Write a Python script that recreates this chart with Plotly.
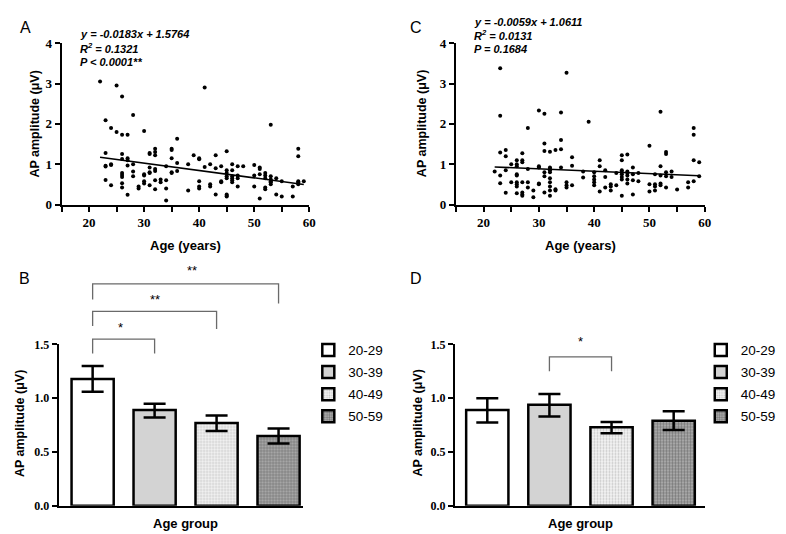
import plotly.graph_objects as go

# ---------------- data ----------------
# Panel A scatter (age, AP amplitude)
a_age = [22, 25, 26, 28, 23, 24, 25, 26, 27, 30, 36, 41, 53, 58, 58,
         23, 23, 23, 23, 24, 24, 24,
         26, 26, 26, 26, 26, 26, 26, 27, 27, 27, 27, 28, 28, 28, 29, 29,
         30, 30, 30, 30, 31, 31, 31, 31, 31, 31, 32, 32, 32, 32, 32, 32, 32,
         33, 33, 34, 34, 34, 34, 35, 35, 35, 35, 35, 36, 36, 38, 38, 39,
         40, 40, 40, 40, 40, 41, 42, 42, 42, 43, 43, 43, 44, 44, 44,
         45, 45, 45, 45, 45, 45, 45, 45, 46, 46, 46, 46, 46, 46,
         47, 47, 47, 47, 48, 50, 50, 50, 51, 51, 51, 51, 52, 52, 52, 52, 52,
         53, 53, 53, 53, 53, 54, 54, 55, 55, 57, 57, 58, 58, 58, 59]
a_amp = [3.05, 2.95, 2.68, 2.22, 2.09, 1.90, 1.80, 1.73, 1.73, 1.82, 1.63, 2.90, 1.98, 1.38, 1.20,
         1.28, 0.94, 0.96, 0.61, 1.00, 0.98, 0.48,
         1.25, 1.13, 0.78, 0.73, 0.68, 0.53, 0.42, 1.15, 1.10, 0.97, 0.24, 1.00, 0.82, 0.70, 0.45, 0.40,
         0.75, 0.72, 0.58, 0.52, 1.28, 1.25, 0.92, 0.80, 0.78, 0.48, 1.38, 1.30, 1.22, 0.88, 0.83, 0.60, 0.38,
         0.62, 0.55, 0.95, 0.60, 0.40, 0.10, 1.38, 1.35, 1.15, 0.78, 0.80, 1.03, 0.83, 1.00, 0.35, 1.22,
         1.15, 1.12, 0.58, 0.45, 0.40, 0.93, 1.00, 0.50, 0.45, 1.22, 0.90, 0.25, 0.95, 0.58, 0.55,
         1.32, 0.85, 0.78, 0.70, 0.65, 0.25, 0.22, 0.20, 1.00, 0.85, 0.70, 0.65, 0.60, 0.55,
         0.95, 0.72, 0.65, 0.45, 0.95, 0.98, 0.72, 0.45, 0.92, 0.88, 0.75, 0.15, 0.78, 0.72, 0.65, 0.42, 0.38,
         0.70, 0.62, 0.58, 0.55, 0.50, 0.65, 0.25, 0.58, 0.20, 0.45, 0.20, 0.58, 0.55, 0.50, 0.58]
a_slope, a_intercept = -0.0183, 1.5764

# Panel C scatter
c_age = [22, 23, 23, 23, 23, 23, 24, 24, 24, 24, 25, 25,
         26, 26, 26, 26, 26, 26, 26, 26, 26, 27, 27, 27, 27, 27, 27, 27,
         28, 28, 28, 28, 29, 29, 30, 30, 30, 30, 30, 31, 31, 31, 31, 31, 31,
         32, 32, 32, 32, 32, 32, 32, 32, 32, 32, 33, 33, 33, 34, 34, 34, 34,
         35, 35, 35, 35, 36, 36, 36, 38, 38, 39, 40, 40, 40, 40, 40, 41, 41, 41,
         42, 42, 42, 43, 43, 43, 44, 44, 45, 45, 45, 45, 45, 45, 45, 45,
         46, 46, 46, 46, 46, 46, 47, 47, 47, 47, 48, 48, 50, 50, 50, 51, 51, 51, 51,
         52, 52, 52, 52, 52, 53, 53, 53, 53, 53, 54, 54, 55, 57, 57, 58, 58, 58, 58, 59, 59]
c_amp = [0.82, 3.38, 2.20, 1.29, 0.72, 0.53, 1.35, 1.20, 0.85, 0.29, 1.00, 0.55,
         1.10, 1.00, 0.95, 0.75, 0.72, 0.55, 0.50, 0.45, 0.28, 1.27, 1.10, 1.05, 0.55, 0.30, 0.25, 0.22,
         1.90, 0.88, 0.55, 0.42, 0.35, 0.18, 2.33, 0.95, 0.92, 0.52, 0.50, 2.25, 1.51, 1.33, 0.80, 0.70, 0.30,
         1.31, 0.92, 0.88, 0.85, 0.80, 0.65, 0.55, 0.45, 0.35, 0.22, 1.35, 0.38, 0.35, 2.28, 1.60, 1.37, 0.92,
         3.27, 0.55, 0.48, 0.42, 1.17, 0.96, 0.48, 0.82, 0.67, 2.05, 0.80, 0.70, 0.62, 0.55, 0.48, 1.10, 0.95, 0.32,
         0.85, 0.68, 0.42, 0.50, 0.45, 0.35, 0.78, 0.48, 1.22, 1.10, 0.85, 0.80, 0.75, 0.68, 0.62, 0.22,
         1.24, 0.82, 0.78, 0.72, 0.62, 0.52, 0.92, 0.75, 0.60, 0.25, 0.78, 0.58, 1.46, 0.50, 0.32, 0.75, 0.50, 0.45, 0.35,
         2.30, 0.95, 0.72, 0.52, 0.48, 1.30, 1.25, 0.80, 0.70, 0.42, 0.82, 0.68, 0.37, 0.55, 0.42, 1.90, 1.73, 1.10, 0.58, 1.05, 0.70]
c_slope, c_intercept = -0.0059, 1.0611

# Bar panels
groups = ["20-29", "30-39", "40-49", "50-59"]
b_mean = [1.18, 0.89, 0.77, 0.65]
b_sem_up = [0.12, 0.06, 0.07, 0.07]
b_sem_dn = [0.12, 0.07, 0.075, 0.07]
d_mean = [0.89, 0.94, 0.73, 0.79]
d_sem_up = [0.11, 0.10, 0.05, 0.09]
d_sem_dn = [0.115, 0.11, 0.055, 0.085]

# significance brackets: (from group, to group, bracket y, left leg y, right leg y, label, label x, label y)
b_sig = [(0, 1, 1.55, 1.415, 1.415, "*", 0.45, 1.66),
         (0, 2, 1.807, 1.672, 1.645, "**", 1.0, 1.92),
         (0, 3, 2.063, 1.918, 1.882, "**", 1.6, 2.19)]
d_sig = [(1, 2, 1.385, 1.25, 1.25, "*", 1.5, 1.53)]

# ---------------- styling ----------------
W, H = 786, 534
SANS = "Liberation Sans"
SERIF = "Liberation Serif"

def px_dom(x0, x1):
    return [x0 / W, x1 / W]

def py_dom(top, bottom):
    return [1 - bottom / H, 1 - top / H]

fig = go.Figure()

# scatter A
fig.add_trace(go.Scatter(x=a_age, y=a_amp, mode="markers", xaxis="x", yaxis="y",
                         marker=dict(color="black", size=4), showlegend=False))
ax_line = [min(a_age), max(a_age)]
fig.add_trace(go.Scatter(x=ax_line, y=[a_slope * v + a_intercept for v in ax_line], mode="lines",
                         xaxis="x", yaxis="y", line=dict(color="black", width=1.6), showlegend=False))
# scatter C
fig.add_trace(go.Scatter(x=c_age, y=c_amp, mode="markers", xaxis="x2", yaxis="y2",
                         marker=dict(color="black", size=4), showlegend=False))
cx_line = [min(c_age), max(c_age)]
fig.add_trace(go.Scatter(x=cx_line, y=[c_slope * v + c_intercept for v in cx_line], mode="lines",
                         xaxis="x2", yaxis="y2", line=dict(color="black", width=1.6), showlegend=False))

bar_styles = [
    dict(color="white"),
    dict(color="#d3d3d3"),
    dict(color="white", pattern=dict(shape=".", fgcolor="#9a9a9a", bgcolor="#f2f2f2", size=3, solidity=0.35)),
    dict(color="#888", pattern=dict(shape=".", fgcolor="#3a3a3a", bgcolor="#b5b5b5", size=3, solidity=0.5)),
]

for i, g in enumerate(groups):
    for (means, up, dn, xa, ya, leg) in [(b_mean, b_sem_up, b_sem_dn, "x3", "y3", "legend"),
                                          (d_mean, d_sem_up, d_sem_dn, "x4", "y4", "legend2")]:
        st = bar_styles[i]
        marker = dict(color=st["color"], line=dict(color="black", width=2.5))
        if "pattern" in st:
            marker["pattern"] = st["pattern"]
        fig.add_trace(go.Bar(x=[i], y=[means[i]], name=g, xaxis=xa, yaxis=ya, width=0.68,
                             marker=marker, legend=leg, legendgroup=leg + g,
                             error_y=dict(type="data", array=[up[i]], arrayminus=[dn[i]],
                                          color="black", thickness=2.5, width=11)))

axis_common = dict(showgrid=False, zeroline=False, showline=True, linecolor="black", linewidth=2,
                   ticks="outside", ticklen=5, tickwidth=2, tickcolor="black",
                   tickfont=dict(family=SERIF, size=12, color="black", weight="bold"))
scatter_font = dict(family=SERIF, size=13, color="black", weight="bold")

A_x, A_y = px_dom(54, 304), py_dom(29, 195)
C_x, C_y = px_dom(452, 703), py_dom(29, 195)
B_x, B_y = px_dom(51, 298), py_dom(339, 505)
D_x, D_y = px_dom(451, 703), py_dom(339, 505)

XR_B = [-0.55, 3.4]
XR_D = [-0.52, 3.5]
YR_BAR = [0, 1.5]

scatter_x = dict(axis_common, range=[15, 60], tickvals=[20, 30, 40, 50, 60], tickfont=scatter_font,
                 minor=dict(tickvals=[15, 25, 35, 45, 55], ticklen=5, tickwidth=2, tickcolor="black", ticks="outside"))
scatter_y = dict(axis_common, range=[0, 4], tickvals=[0, 1, 2, 3, 4], tickfont=scatter_font)
bar_y = dict(axis_common, range=YR_BAR, tickvals=[0, 0.5, 1.0, 1.5], ticktext=["0.0", "0.5", "1.0", "1.5"])

legend_style = dict(yanchor="top", xanchor="left", font=dict(family=SANS, size=13.5, color="black"),
                    tracegroupgap=1.5, bgcolor="rgba(0,0,0,0)")

fig.update_layout(
    width=W, height=H, margin=dict(l=0, r=0, t=0, b=0),
    paper_bgcolor="white", plot_bgcolor="white",
    xaxis=dict(scatter_x, domain=A_x, anchor="y"),
    yaxis=dict(scatter_y, domain=A_y, anchor="x"),
    xaxis2=dict(scatter_x, domain=C_x, anchor="y2"),
    yaxis2=dict(scatter_y, domain=C_y, anchor="x2"),
    xaxis3=dict(axis_common, domain=B_x, anchor="y3", range=XR_B, ticks="", showticklabels=False),
    yaxis3=dict(bar_y, domain=B_y, anchor="x3"),
    xaxis4=dict(axis_common, domain=D_x, anchor="y4", range=XR_D, ticks="", showticklabels=False),
    yaxis4=dict(bar_y, domain=D_y, anchor="x4"),
    barmode="overlay",
    legend=dict(legend_style, x=303 / W, y=1 - 329 / H),
    legend2=dict(legend_style, x=699 / W, y=1 - 329 / H),
)

ann = []
shapes = []

def text(x, y, s, size=13, bold=True, angle=0, italic=False, family=SANS, xanchor="center", yanchor="middle"):
    t = s
    if italic:
        t = "<i>" + t + "</i>"
    if bold:
        t = "<b>" + t + "</b>"
    ann.append(dict(x=x / W, y=1 - y / H, xref="paper", yref="paper", text=t, showarrow=False,
                    textangle=angle, xanchor=xanchor, yanchor=yanchor,
                    font=dict(family=family, size=size, color="black")))

# panel letters
text(10, 13, "A", size=16, bold=False, xanchor="left")
text(404, 13, "C", size=16, bold=False, xanchor="left")
text(9, 271, "B", size=16, bold=False, xanchor="left")
text(404, 271, "D", size=16, bold=False, xanchor="left")

# axis titles
for (x, y) in [(27, 112), (418, 112), (12, 420), (414, 420)]:
    text(x, y, "AP amplitude (μV)", size=12.5, angle=-90)
text(179, 237, "Age (years)", size=13)
text(578, 237, "Age (years)", size=13)
text(179, 523, "Age group", size=13)
text(578, 523, "Age group", size=13)

# regression equations
def eq_lines(x, y0, slope, intercept, r2, p):
    lines = [f"y = {slope:.4f}x + {intercept:.4f}", f"R<sup>2</sup> = {r2}", p]
    for k, l in enumerate(lines):
        text(x, y0 + 14 * k, l, size=11, italic=True, xanchor="left")

eq_lines(71, 20, a_slope, a_intercept, "0.1321", "P < 0.0001**")
eq_lines(468, 7, c_slope, c_intercept, "0.0131", "P = 0.1684")

# significance brackets (domain coordinates -> not clipped)
def add_sig(sigs, xr, yr, xa, ya):
    def dx(v):
        return (v - xr[0]) / (xr[1] - xr[0])
    def dy(v):
        return (v - yr[0]) / (yr[1] - yr[0])
    for (g0, g1, ytop, yl, yrr, lab, lx, ly) in sigs:
        path = f"M{dx(g0)},{dy(yl)} L{dx(g0)},{dy(ytop)} L{dx(g1)},{dy(ytop)} L{dx(g1)},{dy(yrr)}"
        shapes.append(dict(type="path", path=path, xref=xa + " domain", yref=ya + " domain",
                           line=dict(color="#6a6a6a", width=1.3)))
        ann.append(dict(x=dx(lx), y=dy(ly), xref=xa + " domain", yref=ya + " domain", text=lab,
                        showarrow=False, font=dict(family=SANS, size=13, color="black"),
                        xanchor="center", yanchor="middle"))

add_sig(b_sig, XR_B, YR_BAR, "x3", "y3")
add_sig(d_sig, XR_D, YR_BAR, "x4", "y4")

fig.update_layout(annotations=ann, shapes=shapes)
fig.write_html("out.html")
